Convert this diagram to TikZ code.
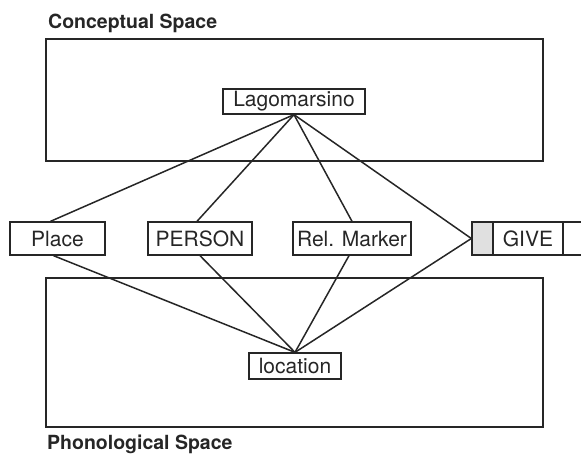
\documentclass[tikz,border=0pt]{standalone}
\usepackage{fontspec}
\setmainfont{TeX Gyre Heros}
\begin{document}
\begin{tikzpicture}[x=1pt,y=-1pt,
  ink/.style={draw=black!85},
  space/.style={ink,line width=2pt},
  label/.style={font=\fontsize{21}{21}\selectfont,text=black!85,anchor=center},
  item/.style={ink,line width=1.3pt,inner sep=0pt,minimum height=33pt,label},
  link/.style={ink,line width=1.5pt},
  title/.style={font=\bfseries\fontsize{19.5}{19.5}\selectfont,text=black!85,anchor=base west,inner sep=0pt}
]
\useasboundingbox (0,0) rectangle (581,453);
\clip (0,0) rectangle (581,453);

% the two spaces
\draw[space] (46,39) rectangle (543,161);
\draw[space] (46,278) rectangle (543,427);
\node[title] (ctitle) at (48,28) {Conceptual Space};
\node[title] (ptitle) at (47,449) {Phonological Space};

% conceptual and phonological units
\node[item,minimum width=142pt,minimum height=25pt] (lago) at (294,101.5) {Lagomarsino};
\node[item,minimum width=92pt,minimum height=26pt] (loc) at (295,366) {location};

% symbolic units in between
\node[item,minimum width=95pt] (place) at (57.5,238.5) {Place};
\node[item,minimum width=104pt] (person) at (200,238.5) {PERSON};
\node[item,minimum width=118pt] (rel) at (352,238.5) {Rel. Marker};
\node[item,minimum width=21pt,fill=black!12] (givehead) at (482.5,238.5) {};
\node[item,minimum width=70pt] (give) at (528,238.5) {GIVE};
\node[item,minimum width=40pt] (givetail) at (583,238.5) {};

% links to the conceptual unit
\draw[link] (lago.south) -- ([xshift=-7pt]place.north);
\draw[link] (lago.south) -- ([xshift=-3pt]person.north);
\draw[link] (lago.south) -- (rel.north);
\draw[link] (lago.south) -- (givehead.west);

% links to the phonological unit
\draw[link] ([xshift=-4pt]place.south) -- (loc.north);
\draw[link] (person.south) -- (loc.north);
\draw[link] ([xshift=-3pt]rel.south) -- (loc.north);
\draw[link] (givehead.west) -- (loc.north);
\end{tikzpicture}
\end{document}
